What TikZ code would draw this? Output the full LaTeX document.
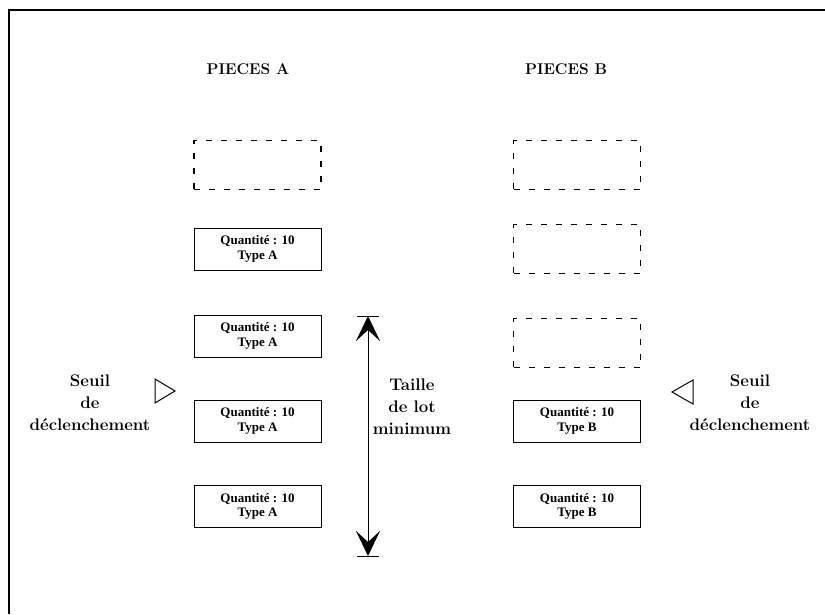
\documentclass[tikz,border=0pt]{standalone}
\usepackage{fontspec}
\newfontfamily\boxfont{Liberation Serif}
\usetikzlibrary{arrows.meta}
\begin{document}
\begin{tikzpicture}[x=1pt,y=-1pt,
  solidbox/.style={draw,line width=1pt,minimum width=127pt,minimum height=42pt,inner sep=0pt,align=center,font=\boxfont\fontsize{13}{14.5}\selectfont\bfseries},
  dashbox/.style={draw,line width=1.1pt,dash pattern=on 6pt off 9pt,minimum width=127pt,minimum height=49pt,inner sep=0pt},
  title/.style={font=\fontsize{15.5}{18}\selectfont\bfseries},
  side/.style={align=center,font=\fontsize{16.8}{22}\selectfont\bfseries},
  tri/.style={draw,line width=1pt},
  lotarrow/.style={line width=0.9pt,>={Stealth[length=25pt,width=24pt,inset=11pt]},<->}]
\useasboundingbox (0,0) rectangle (825,614);
\draw[line width=1.6pt] (9,614) -- (9,10) -- (825,10);
% titles
\node[title] (ta) at (248,69) {PIECES A};
\node[title] (tb) at (566,69) {PIECES B};
% column A
\node[dashbox] (a1) at (257.5,165) {};
\node[solidbox] (a2) at (257.5,249) {Quantit\'e : 10\\Type A};
\node[solidbox] (a3) at (257.5,336) {Quantit\'e : 10\\Type A};
\node[solidbox] (a4) at (257.5,421) {Quantit\'e : 10\\Type A};
\node[solidbox] (a5) at (257.5,506.5) {Quantit\'e : 10\\Type A};
% column B
\node[dashbox] (b1) at (577,165) {};
\node[dashbox] (b2) at (577,249) {};
\node[dashbox] (b3) at (577,343) {};
\node[solidbox] (b4) at (577,421) {Quantit\'e : 10\\Type B};
\node[solidbox] (b5) at (577,506.5) {Quantit\'e : 10\\Type B};
% lot size arrow
\coordinate (top) at (368,316);
\coordinate (bot) at (368,556);
\draw[line width=1pt] (357,316) -- (379,316);
\draw[line width=1pt] (357,556) -- (379,556);
\draw[lotarrow] (top) -- (bot);
\node[side] (lot) at (412,407) {Taille\\de lot\\minimum};
% thresholds
\node[side] (sa) at (90,403) {Seuil\\de\\d\'eclenchement};
\draw[tri] (155,379) -- (175,391) -- (155,403) -- cycle;
\node[side] (sb) at (750,403) {Seuil\\de\\d\'eclenchement};
\draw[tri] (693,380) -- (672,392) -- (693,404) -- cycle;
\end{tikzpicture}
\end{document}
